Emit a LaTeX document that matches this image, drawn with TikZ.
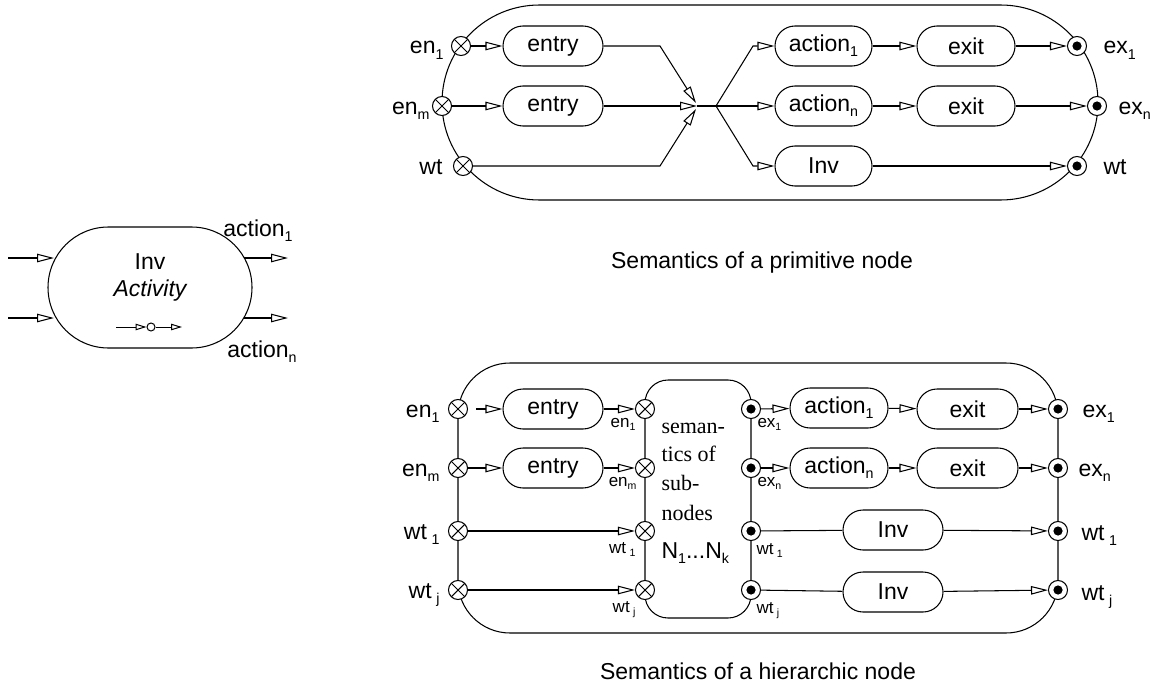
\documentclass[tikz,border=0pt]{standalone}
\usepackage{fontspec}
\setmainfont{Liberation Sans}
\newfontfamily\timesfont{Liberation Serif}
\usepackage{graphicx}
\usetikzlibrary{arrows.meta}
% lowered, reduced index
\newcommand\lo[1]{\raisebox{-0.22em}{\scalebox{0.62}{#1}}}

\begin{document}
\begin{tikzpicture}[x=1pt,y=-1pt,line width=1.05pt,
  every node/.style={font=\fontsize{23}{27}\selectfont,inner sep=0pt},
  tip/.style={-{Triangle[open,length=17pt,width=8.5pt]}},
  smalltip/.style={-{Triangle[open,length=11pt,width=6.5pt]}},
  pill/.style={draw,rounded corners=20pt,minimum width=100pt,minimum height=40pt},
  xport/.style={circle,draw,fill=white,minimum size=19pt,
    path picture={\draw[black,line width=1.05pt]
      (path picture bounding box.north west) -- (path picture bounding box.south east)
      (path picture bounding box.north east) -- (path picture bounding box.south west);}},
  dport/.style={circle,draw,fill=white,minimum size=19pt,
    path picture={\fill[black] (path picture bounding box.center) circle (4.6pt);}},
  lbl/.style={anchor=base east},
  rlbl/.style={anchor=base west},
  small/.style={font=\fontsize{17}{20}\selectfont},
  inner/.style={anchor=base west,font=\fontsize{22}{26}\timesfont},
]
\useasboundingbox (0,0) rectangle (1160,693);

% ---------- activity node ----------
\node[draw,rounded corners=60.5pt,minimum width=204pt,minimum height=121pt] (actnode) at (150,287.5) {};
\node (invtxt) at (150,262) {Inv};
\node (acttxt) at (150,291) {\itshape Activity};
\coordinate (s0) at (116,327);
\node[circle,draw,minimum size=8pt,line width=1pt] (sc) at (151,327) {};
\coordinate (s1) at (182,327);
\draw[smalltip,line width=1pt] (s0) -- (sc);
\draw[smalltip,line width=1pt] (sc) -- (s1);
\coordinate (in1a) at (8,258);  \coordinate (in1b) at (54,258);
\coordinate (in2a) at (8,318);  \coordinate (in2b) at (54,318);
\coordinate (out1a) at (244,258); \coordinate (out1b) at (288,258);
\coordinate (out2a) at (244,318); \coordinate (out2b) at (288,318);
\draw[tip] (in1a) -- (in1b);
\draw[tip] (in2a) -- (in2b);
\draw[tip] (out1a) -- (out1b);
\draw[tip] (out2a) -- (out2b);
\node[anchor=base] (lact1) at (258,236) {action\lo{1}};
\node[anchor=base] (lactn) at (262,357) {action\lo{n}};

% ---------- primitive node ----------
\draw[rounded corners=97.4pt] (442,5) rectangle (1098,200);
\node[xport] (en1) at (461,46) {};
\node[xport] (enm) at (442,106) {};
\node[xport] (wtin) at (463,166) {};
\node[pill] (entry1) at (553,46) {entry};
\node[pill] (entry2) at (553,106) {entry};
\coordinate (k1) at (660,46);
\coordinate (k3) at (660,166);
\coordinate (joina) at (696,103);
\coordinate (joinb) at (696,109);
\coordinate (join) at (697,106);
\coordinate (fork) at (716,106);
\coordinate (k4) at (753,46);
\coordinate (k6) at (753,166);
\node[pill,minimum width=97pt] (act1) at (823.5,46) {action\lo{1}};
\node[pill,minimum width=97pt] (actn) at (823.5,106) {action\lo{n}};
\node[pill,minimum width=97pt] (inv) at (823.5,166) {Inv};
\node[pill,minimum width=98pt] (exit1) at (966,46) {exit};
\node[pill,minimum width=98pt] (exit2) at (966,106) {exit};
\node[dport] (ex1) at (1077,46) {};
\node[dport] (exn) at (1097,106) {};
\node[dport] (wtout) at (1077,166) {};

\draw[tip] (en1) -- (entry1);
\draw[tip] (enm) -- (entry2);
\draw[tip] (entry1) -- (k1) -- (joina);
\draw[tip] (entry2) -- (join);
\draw[tip] (wtin) -- (k3) -- (joinb);
\draw (join) -- (fork);
\draw[tip] (fork) -- (k4) -- (act1);
\draw[tip] (fork) -- (actn);
\draw[tip] (fork) -- (k6) -- (inv);
\draw[tip] (act1) -- (exit1);
\draw[tip] (actn) -- (exit2);
\draw[tip] (exit1) -- (ex1);
\draw[tip] (exit2) -- (exn);
\draw[tip] (inv) -- (wtout);

\node[lbl] (len1) at (444,54) {en\lo{1}};
\node[lbl] (lenm) at (430,114) {en\lo{m}};
\node[lbl] (lwt) at (443,174) {wt};
\node[rlbl] (lex1) at (1103,54) {ex\lo{1}};
\node[rlbl] (lexn) at (1118,114) {ex\lo{n}};
\node[rlbl] (lwto) at (1103,174) {wt};

\node[anchor=base] (cap1) at (762,268) {Semantics of a primitive node};

% ---------- hierarchic node ----------
\draw[rounded corners=52pt] (458,363) rectangle (1058,633);
\node[draw,rounded corners=23pt,minimum width=106pt,minimum height=238pt] (sub) at (698,499) {};

\node[inner] (t1) at (661,433) {seman-};
\node[inner] (t2) at (661,461) {tics of};
\node[inner] (t3) at (661,490) {sub-};
\node[inner] (t4) at (661,520) {nodes};
\node[anchor=base west] (t5) at (661,558) {N\lo{1}...N\lo{k}};

\node[xport] (oe1) at (458,409) {};
\node[xport] (oem) at (458,468) {};
\node[xport] (ow1) at (458,531) {};
\node[xport] (owj) at (458,590) {};
\node[xport] (ie1) at (645,409) {};
\node[xport] (iem) at (645,468) {};
\node[xport] (iw1) at (645,531) {};
\node[xport] (iwj) at (645,590) {};
\node[dport] (ix1) at (751,409) {};
\node[dport] (ixn) at (751,468) {};
\node[dport] (ixw1) at (751,531) {};
\node[dport] (ixwj) at (751,590) {};
\node[dport] (rx1) at (1058,409) {};
\node[dport] (rxn) at (1058,468) {};
\node[dport] (rw1) at (1058,531) {};
\node[dport] (rwj) at (1058,590) {};

\node[pill] (eb1) at (553,409) {entry};
\node[pill] (eb2) at (553,468) {entry};
\node[pill,minimum width=98pt] (ab1) at (839,408) {action\lo{1}};
\node[pill,minimum width=98pt] (ab2) at (839,468) {action\lo{n}};
\node[pill,minimum width=101pt] (xb1) at (967.5,409) {exit};
\node[pill,minimum width=101pt] (xb2) at (967.5,468) {exit};
\node[pill] (ib1) at (893,530) {Inv};
\node[pill] (ib2) at (893,592) {Inv};

\draw[tip] ([xshift=8pt]oe1.east) -- (eb1);
\draw[tip] (oem) -- (eb2);
\draw[tip] (eb1) -- (ie1);
\draw[tip] (eb2) -- (iem);
\draw[tip] (ow1) -- (iw1);
\draw[tip] (owj) -- (iwj);
\draw[tip] (ix1) -- (ab1);
\draw[tip] (ixn) -- (ab2);
\draw[tip] (ab1) -- (xb1);
\draw[tip] (ab2) -- (xb2);
\draw[tip] (xb1) -- (rx1);
\draw[tip] (xb2) -- (rxn);
\draw (ixw1) -- (ib1);
\draw (ixwj) -- (ib2);
\draw[tip] (ib1) -- (rw1);
\draw[tip] (ib2) -- (rwj);

\node[lbl] (hen1) at (440,417) {en\lo{1}};
\node[lbl] (henm) at (440,476) {en\lo{m}};
\node[lbl] (hwt1) at (440,539) {wt\hspace{0.2em}\lo{1}};
\node[lbl] (hwtj) at (440,598) {wt\hspace{0.2em}\lo{j}};
\node[lbl,small] (ien1) at (636,427) {en\lo{1}};
\node[lbl,small] (ienm) at (637,486) {en\lo{m}};
\node[lbl,small] (iwt1) at (636,553) {wt\hspace{0.2em}\lo{1}};
\node[lbl,small] (iwtj) at (636,612) {wt\hspace{0.2em}\lo{j}};
\node[rlbl,small] (iex1) at (757,427) {ex\lo{1}};
\node[rlbl,small] (iexn) at (757,486) {ex\lo{n}};
\node[rlbl,small] (ixwt1) at (756,554) {wt\hspace{0.2em}\lo{1}};
\node[rlbl,small] (ixwtj) at (756,613) {wt\hspace{0.2em}\lo{j}};
\node[rlbl] (rex1) at (1082,417) {ex\lo{1}};
\node[rlbl] (rexn) at (1078,476) {ex\lo{n}};
\node[rlbl] (rwt1) at (1081,540) {wt\hspace{0.2em}\lo{1}};
\node[rlbl] (rwtj) at (1081,600) {wt\hspace{0.2em}\lo{j}};

\node[anchor=base] (cap2) at (758,679) {Semantics of a hierarchic node};
\end{tikzpicture}
\end{document}
